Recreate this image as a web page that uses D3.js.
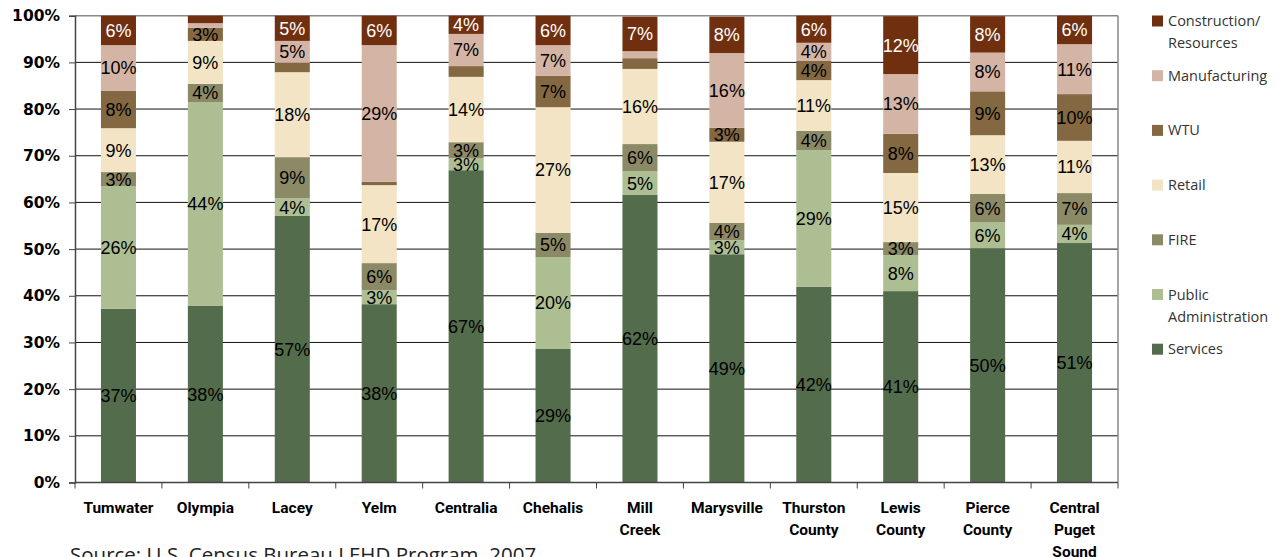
<!DOCTYPE html>
<html>
<head>
<meta charset="utf-8">
<script src="https://cdn.jsdelivr.net/npm/d3@7"></script>
<style>
  html, body { margin: 0; padding: 0; background: #fff; }
  svg { display: block; }
</style>
</head>
<body>
<svg id="chart" width="1280" height="557"></svg>
<script>
// ---- data ----
const categories = [
  ["Tumwater"], ["Olympia"], ["Lacey"], ["Yelm"], ["Centralia"], ["Chehalis"],
  ["Mill", "Creek"], ["Marysville"], ["Thurston", "County"], ["Lewis", "County"],
  ["Pierce", "County"], ["Central", "Puget", "Sound"]
];
const seriesNames = ["Services", "Public Administration", "FIRE", "Retail", "WTU", "Manufacturing", "Construction/ Resources"];
const services      = [37.2, 37.9, 57.1, 38.2, 66.9, 28.6, 61.6, 48.9, 41.9, 41.0, 50.2, 51.3];
const publicAdmin   = [26.3, 43.6,  3.8,  3.0,  2.6, 19.7,  5.1,  3.0, 29.3,  7.7,  5.6,  3.9];
const fire          = [ 3.0,  3.9,  8.8,  5.8,  3.4,  5.2,  5.8,  3.7,  4.1,  2.8,  6.0,  6.8];
const retail        = [ 9.4,  9.2, 18.2, 16.7, 14.0, 26.9, 16.1, 17.4, 10.9, 14.8, 12.6, 11.2];
const wtu           = [ 8.0,  2.8,  2.0,  0.7,  2.3,  6.7,  2.3,  3.0,  4.1,  8.4,  9.4, 10.0];
const manufacturing = [ 9.8,  1.0,  4.7, 29.3,  6.9,  6.6,  1.5, 16.0,  3.9, 12.8,  8.3, 10.7];
const construction  = [ 6.3,  1.6,  5.4,  6.3,  3.9,  6.3,  7.4,  7.8,  5.8, 12.4,  7.8,  6.1];
const yTicks = [0, 10, 20, 30, 40, 50, 60, 70, 80, 90, 100];

const seriesValues = [services, publicAdmin, fire, retail, wtu, manufacturing, construction];
const colors = ["#536C4B", "#ADBE92", "#8C8A66", "#F2E4C4", "#836842", "#D4B4A4", "#70300F"];
const labelColors = ["#000", "#000", "#000", "#000", "#000", "#000", "#fff"];

// ---- layout ----
const svg = d3.select("#chart");
const plotLeft = 75, plotRight = 1118, plotTop = 15.7, plotBottom = 482.5;

const catKeys = categories.map(c => c.join(" "));
const x = d3.scaleBand().domain(catKeys).range([plotLeft, plotRight])
  .paddingInner(0.597).paddingOuter(0.2985);
const y = d3.scaleLinear().domain([0, 100]).range([plotBottom, plotTop]);

// table for stack
const table = catKeys.map((k, i) => {
  const row = { key: k };
  seriesNames.forEach((s, j) => row[s] = seriesValues[j][i]);
  return row;
});
const stack = d3.stack().keys(seriesNames)(table);

// gridlines
svg.append("g").selectAll("line").data(yTicks.filter(t => t > 0 && t < 100)).join("line")
  .attr("x1", plotLeft).attr("x2", plotRight)
  .attr("y1", d => y(d)).attr("y2", d => y(d))
  .attr("stroke", "#111").attr("stroke-width", 1);

// plot border top/right (grey)
svg.append("line").attr("x1", plotLeft).attr("x2", plotRight).attr("y1", y(100)).attr("y2", y(100))
  .attr("stroke", "#888").attr("stroke-width", 1.5);
svg.append("line").attr("x1", plotRight).attr("x2", plotRight).attr("y1", y(100)).attr("y2", y(0))
  .attr("stroke", "#888").attr("stroke-width", 1.5);

// bars
const groups = svg.append("g").selectAll("g").data(stack).join("g")
  .attr("fill", (d, i) => colors[i]);
groups.selectAll("rect").data(d => d).join("rect")
  .attr("x", d => x(d.data.key))
  .attr("width", x.bandwidth())
  .attr("y", d => y(d[1]))
  .attr("height", d => y(d[0]) - y(d[1]));

// data labels
stack.forEach((s, si) => {
  svg.append("g").selectAll("text").data(s.filter(d => Math.round(d[1] - d[0]) >= 3)).join("text")
    .attr("x", d => x(d.data.key) + x.bandwidth() / 2)
    .attr("y", d => (y(d[0]) + y(d[1])) / 2)
    .attr("dy", "0.36em")
    .attr("text-anchor", "middle")
    .attr("font-family", "'Liberation Sans', Arial, sans-serif")
    .attr("font-size", 18)
    .attr("fill", labelColors[si])
    .text(d => Math.round(d[1] - d[0]) + "%");
});

// y axis
const yAxis = svg.append("g").attr("transform", `translate(${plotLeft},0)`)
  .call(d3.axisLeft(y).tickValues(yTicks).tickFormat(d => d + "%").tickSize(6).tickPadding(9));
yAxis.select(".domain").attr("stroke", "#444").attr("stroke-width", 1.5);
yAxis.selectAll(".tick line").attr("stroke", "#444");
yAxis.selectAll(".tick text")
  .attr("font-family", "'DejaVu Sans', sans-serif").attr("font-weight", "bold")
  .attr("font-size", 15.5).attr("fill", "#000");

// x axis
const xAxis = svg.append("g").attr("transform", `translate(0,${plotBottom})`);
xAxis.append("line").attr("x1", plotLeft).attr("x2", plotRight).attr("y1", 0).attr("y2", 0)
  .attr("stroke", "#444").attr("stroke-width", 1.5);
const boundaries = catKeys.map(k => x(k) - x.step() * x.paddingInner() / 2).concat([plotRight]);
xAxis.selectAll("line.tk").data(boundaries).join("line").attr("class", "tk")
  .attr("x1", d => d).attr("x2", d => d).attr("y1", 0).attr("y2", 6)
  .attr("stroke", "#444");
const xl = xAxis.selectAll("text").data(categories).join("text")
  .attr("transform", (d, i) => `translate(${x(catKeys[i]) + x.bandwidth() / 2},0)`)
  .attr("text-anchor", "middle")
  .attr("font-family", "Roboto, sans-serif").attr("font-weight", "bold")
  .attr("font-size", 15.5).attr("fill", "#000");
xl.selectAll("tspan").data(d => d).join("tspan")
  .attr("x", 0).attr("y", (d, i) => 30 + i * 22).text(d => d);

// legend
const legendItems = [
  ["Construction/", "Resources"], ["Manufacturing"], ["WTU"], ["Retail"], ["FIRE"],
  ["Public", "Administration"], ["Services"]
];
const legendColors = colors.slice().reverse();
const lg = svg.append("g").selectAll("g").data(legendItems).join("g")
  .attr("transform", (d, i) => `translate(1152,${21 + i * 54.7})`);
lg.append("rect").attr("x", 0).attr("y", -5.5).attr("width", 11).attr("height", 11)
  .attr("fill", (d, i) => legendColors[i]);
const lt = lg.append("text")
  .attr("font-family", "'Open Sans', sans-serif").attr("font-size", 14.5).attr("fill", "#333");
lt.selectAll("tspan").data(d => d).join("tspan")
  .attr("x", 16).attr("y", (d, i) => i * 22).attr("dy", "0.35em").text(d => d);

// source
svg.append("text").attr("x", 70).attr("y", 562)
  .attr("font-family", "'Open Sans', sans-serif").attr("font-size", 20.5).attr("fill", "#222")
  .text("Source: U.S. Census Bureau LEHD Program, 2007");
</script>
</body>
</html>
